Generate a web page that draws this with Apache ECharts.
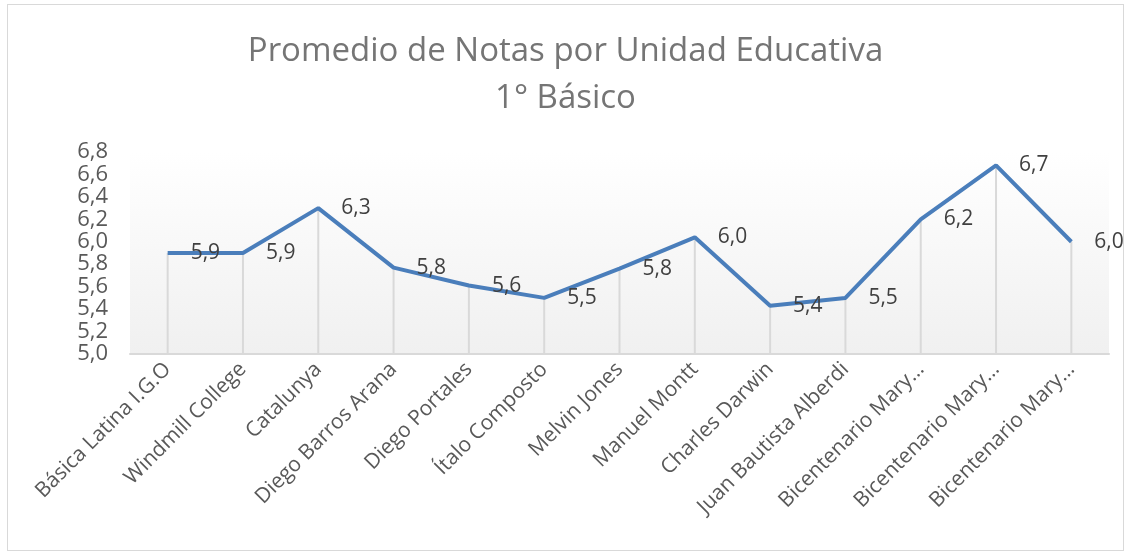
<!DOCTYPE html>
<html>
<head>
<meta charset="utf-8">
<script src="https://cdn.jsdelivr.net/npm/echarts@6/dist/echarts.min.js"></script>
<style>
  html, body { margin: 0; padding: 0; background: #fff; }
  #chart { position: absolute; left: 7px; top: 4px; width: 1115px; height: 545px; border: 1px solid #d9d9d9; }
</style>
</head>
<body>
<div id="chart"></div>
<script>
var escuelas = ['Básica Latina I.G.O', 'Windmill College', 'Catalunya', 'Diego Barros Arana',
    'Diego Portales', 'Ítalo Composto', 'Melvin Jones', 'Manuel Montt', 'Charles Darwin',
    'Juan Bautista Alberdi', 'Bicentenario Mary…', 'Bicentenario Mary…', 'Bicentenario Mary…'];
var promedios = [5.90, 5.90, 6.30, 5.77, 5.61, 5.50, 5.76, 6.04, 5.43, 5.50, 6.20, 6.68, 6.00];

function coma(v) {
    return Number(v).toFixed(1).replace('.', ',');
}

var myChart = echarts.init(document.getElementById('chart'));

myChart.setOption({
    animation: false,
    textStyle: { fontFamily: 'Open Sans' },
    title: {
        text: 'Promedio de Notas por Unidad Educativa\n1° Básico',
        left: 'center',
        top: 18,
        textStyle: { fontSize: 33, fontWeight: 'normal', color: '#757575', lineHeight: 47 }
    },
    grid: {
        left: 122, right: 14, top: 147, bottom: 196,
        show: true, borderWidth: 0,
        backgroundColor: new echarts.graphic.LinearGradient(0, 0, 0, 1, [
            { offset: 0, color: '#ffffff' },
            { offset: 1, color: '#f0f0f0' }
        ])
    },
    xAxis: {
        type: 'category',
        data: escuelas,
        boundaryGap: true,
        axisLine: { lineStyle: { color: '#d9d9d9', width: 2 } },
        axisTick: { show: false },
        axisLabel: { rotate: 45, fontSize: 21, color: '#595959', interval: 0, margin: 12 }
    },
    yAxis: {
        type: 'value',
        min: 5.0, max: 6.8, interval: 0.2,
        axisLine: { show: false },
        axisTick: { show: false },
        splitLine: { show: false },
        axisLabel: { fontSize: 22, color: '#595959', margin: 22, formatter: coma }
    },
    series: [
        {
            type: 'bar',
            data: promedios,
            barWidth: 2,
            silent: true,
            itemStyle: { color: '#d9d9d9' },
            z: 1
        },
        {
            type: 'line',
            data: promedios,
            symbol: 'circle',
            symbolSize: 2,
            showSymbol: true,
            itemStyle: { color: 'rgba(0,0,0,0)' },
            lineStyle: { color: '#4a7ebb', width: 4 },
            z: 3,
            label: {
                show: true,
                position: 'right',
                distance: 22,
                fontSize: 21,
                color: '#404040',
                formatter: function (p) { return coma(p.value); }
            },
            labelLayout: { hideOverlap: false }
        }
    ]
});
</script>
</body>
</html>
